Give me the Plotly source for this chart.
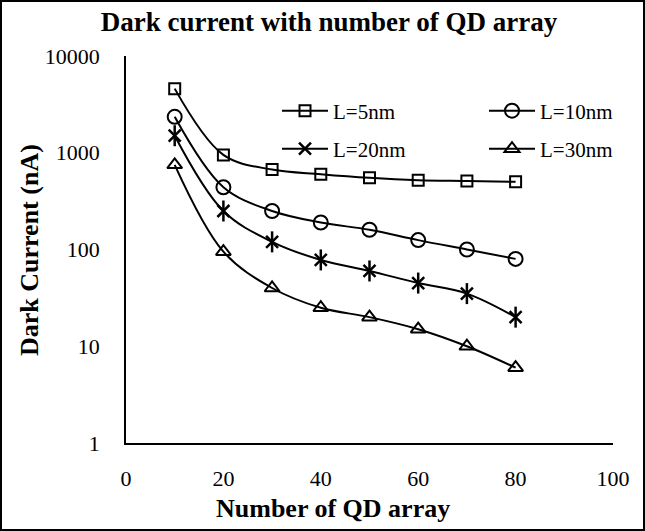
import plotly.graph_objects as go

# Dark current (nA) versus number of QD arrays for four dot sizes
qd_count = [10, 20, 30, 40, 50, 60, 70, 80]
dark_5nm = [4600, 950, 670, 600, 550, 520, 510, 500]
dark_10nm = [2350, 440, 250, 190, 160, 125, 100, 80]
dark_20nm = [1500, 250, 120, 78, 60, 45, 35, 20]
dark_30nm = [750, 95, 40, 25, 20, 15, 10, 6]

x_ticks = [0, 20, 40, 60, 80, 100]
y_ticks = [1, 10, 100, 1000, 10000]
y_tick_text = ["1", "10", "100", "1000", "10000"]

W, H = 645, 531
ML, MR, MT, MB = 126, 32, 56, 88
PW, PH = W - ML - MR, H - MT - MB

FONT = "Liberation Serif"
INK = "black"


def px_to_paper_x(px):
    return (px - ML) / PW


def px_to_paper_y(py):
    return (H - MB - py) / PH


line_style = dict(color=INK, width=2, shape="spline", smoothing=1)

fig = go.Figure()

fig.add_trace(go.Scatter(
    x=qd_count, y=dark_5nm, name="L=5nm", mode="lines+markers",
    line=line_style, legend="legend",
    marker=dict(symbol="square-open", size=11, color=INK, line=dict(width=2, color=INK)),
))
fig.add_trace(go.Scatter(
    x=qd_count, y=dark_10nm, name="L=10nm", mode="lines+markers",
    line=line_style, legend="legend2",
    marker=dict(symbol="circle-open", size=14, color=INK, line=dict(width=2, color=INK)),
))
fig.add_trace(go.Scatter(
    x=qd_count, y=dark_20nm, name="L=20nm", mode="lines+markers",
    line=line_style, legend="legend3",
    marker=dict(symbol="x-thin-open", size=12, color=INK, line=dict(width=2.5, color=INK)),
))
# vertical stroke completing the star marker
fig.add_trace(go.Scatter(
    x=qd_count, y=dark_20nm, mode="markers", showlegend=False, hoverinfo="skip",
    marker=dict(symbol="line-ns-open", size=15, color=INK, line=dict(width=2.5, color=INK)),
))
fig.add_trace(go.Scatter(
    x=qd_count, y=dark_30nm, name="L=30nm", mode="lines+markers",
    line=line_style, legend="legend4",
    marker=dict(symbol="triangle-up-open", size=13, color=INK, line=dict(width=2, color=INK)),
))

legend_common = dict(
    orientation="h", xanchor="left", yanchor="middle",
    bgcolor="rgba(0,0,0,0)", borderwidth=0,
    font=dict(family=FONT, size=21, color=INK),
    itemwidth=46,
)

col1_px, col2_px = 277, 484
row1_px, row2_px = 111, 149

fig.update_layout(
    width=W, height=H,
    margin=dict(l=ML, r=MR, t=MT, b=MB),
    paper_bgcolor="white", plot_bgcolor="white",
    font=dict(family=FONT, color=INK),
    title=dict(
        text="<b>Dark current with number of QD array</b>",
        x=329 / W, xanchor="center", xref="container",
        y=1 - 22 / H, yanchor="middle", yref="container",
        font=dict(family=FONT, size=27, color=INK),
    ),
    xaxis=dict(
        range=[0, 100], tickvals=x_ticks, showgrid=False, zeroline=False,
        showline=True, linecolor=INK, linewidth=1.5,
        ticks="outside", ticklen=15, tickcolor="rgba(0,0,0,0)",
        tickfont=dict(family=FONT, size=22, color=INK),
    ),
    yaxis=dict(
        type="log", range=[0, 4], tickvals=y_ticks, ticktext=y_tick_text,
        showgrid=False, zeroline=False,
        showline=True, linecolor=INK, linewidth=1.5,
        ticks="outside", ticklen=20, tickcolor="rgba(0,0,0,0)",
        tickfont=dict(family=FONT, size=22, color=INK),
    ),
    legend=dict(x=px_to_paper_x(col1_px), y=px_to_paper_y(row1_px), **legend_common),
    legend2=dict(x=px_to_paper_x(col2_px), y=px_to_paper_y(row1_px), **legend_common),
    legend3=dict(x=px_to_paper_x(col1_px), y=px_to_paper_y(row2_px), **legend_common),
    legend4=dict(x=px_to_paper_x(col2_px), y=px_to_paper_y(row2_px), **legend_common),
    annotations=[
        dict(
            text="<b>Number of QD array</b>", xref="paper", yref="paper",
            x=px_to_paper_x(333), y=px_to_paper_y(508),
            xanchor="center", yanchor="middle", showarrow=False,
            font=dict(family=FONT, size=26, color=INK),
        ),
        dict(
            text="<b>Dark Current (nA)</b>", xref="paper", yref="paper",
            x=px_to_paper_x(30), y=px_to_paper_y(250), textangle=-90,
            xanchor="center", yanchor="middle", showarrow=False,
            font=dict(family=FONT, size=26, color=INK),
        ),
    ],
    shapes=[
        dict(
            type="rect", xref="paper", yref="paper", layer="above",
            x0=px_to_paper_x(1), x1=px_to_paper_x(W - 1),
            y0=px_to_paper_y(H - 1), y1=px_to_paper_y(1),
            line=dict(color=INK, width=2), fillcolor="rgba(0,0,0,0)",
        ),
    ],
)

fig.write_html("out.html")
